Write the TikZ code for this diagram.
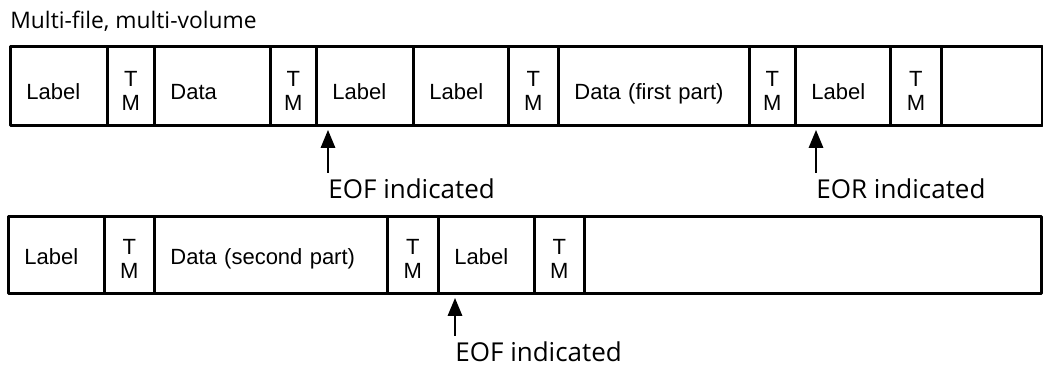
\documentclass[tikz,border=0pt]{standalone}
\usepackage{fontspec}
\newfontfamily\capfont{Open Sans}
\newfontfamily\boxfont{Liberation Sans}
\usetikzlibrary{arrows.meta}

\begin{document}
\begin{tikzpicture}[x=0.5pt,y=-0.5pt,line join=round,
  cell/.style={draw,line width=1.4pt,inner sep=0pt,anchor=north west,font=\boxfont\fontsize{11}{12}\selectfont},
  top/.style={minimum height=39.5pt},
  bot/.style={minimum height=38.5pt},
  txt/.style 2 args={cell,inner xsep=8pt,text width=#1,align=left,text height=#2,text depth=0pt},
  tm/.style 2 args={cell,minimum width=#1,align=center,text height=#2,text depth=0pt},
  gap/.style={cell,minimum width=#1},
  note/.style={anchor=base west,inner sep=0pt,font=\capfont\fontsize{13}{15}\selectfont},
  ptr/.style={-{Triangle[length=9pt,width=7pt]},line width=1.4pt,shorten <=2.5pt,shorten >=1.5pt}]
  \useasboundingbox (0,0) rectangle (1043,366);
  \node[note,font=\capfont\fontsize{11.4}{14}\selectfont] (ttl) at (10,28) {Multi-file, multi-volume};
  \node[txt={32.5pt}{14pt},top] (lab1) at (9,45) {Label};
  \node[tm={23.5pt}{25pt},top] (tm1) at (106,45) {T\\M};
  \node[txt={42pt}{14pt},top] (dat1) at (153,45) {Data};
  \node[tm={23pt}{25pt},top] (tm2) at (269,45) {T\\M};
  \node[txt={32.5pt}{14pt},top] (lab2) at (315,45) {Label};
  \node[txt={31.5pt}{14pt},top] (lab3) at (412,45) {Label};
  \node[tm={25pt}{25pt},top] (tm3) at (507,45) {T\\M};
  \node[txt={79.5pt}{14pt},top] (dat2) at (557,45) {Data (first part)};
  \node[tm={23pt}{25pt},top] (tm4) at (748,45) {T\\M};
  \node[txt={31.5pt}{14pt},top] (lab4) at (794,45) {Label};
  \node[tm={25.5pt}{25pt},top] (tm5) at (889,45) {T\\M};
  \node[gap=50.5pt,top] (end1) at (940,45) {};
  \node[txt={32pt}{10pt},bot] (lab5) at (7,215) {Label};
  \node[tm={25pt}{24pt},bot] (tm6) at (103,215) {T\\M};
  \node[txt={100.5pt}{10pt},bot] (dat3) at (153,215) {Data (second part)};
  \node[tm={25.5pt}{24pt},bot] (tm7) at (386,215) {T\\M};
  \node[txt={32pt}{10pt},bot] (lab6) at (437,215) {Label};
  \node[tm={25pt}{24pt},bot] (tm8) at (533,215) {T\\M};
  \node[gap=228.5pt,bot] (end2) at (583,215) {};
  \node[note] (eof1) at (328,198) {EOF indicated};
  \node[note] (eor) at (816,198) {EOR indicated};
  \node[note] (eof2) at (455,361) {EOF indicated};
  \draw[ptr] (eof1.north west) -- (eof1.north west |- lab2.south);
  \draw[ptr] (eor.north west) -- (eor.north west |- lab4.south);
  \draw[ptr] (eof2.north west) -- (eof2.north west |- lab6.south);
\end{tikzpicture}
\end{document}
